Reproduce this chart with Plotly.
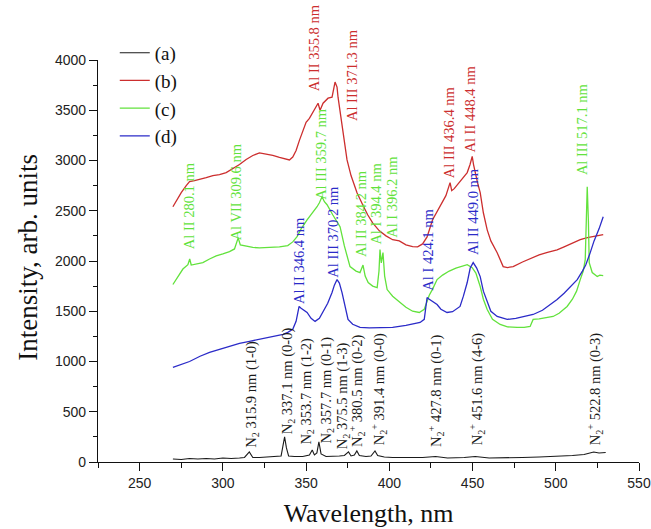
import plotly.graph_objects as go

# ---------------- data ----------------
wl_a = [270, 275, 280, 285, 290, 295, 300, 305, 310, 313, 315.9, 318, 322, 327, 332, 335,
        336, 337.1, 338.2, 339.5, 343, 348, 352, 353.7, 355, 356.5, 357.7, 359, 362, 366,
        370, 373, 375.5, 377, 379, 380.5, 382, 386, 389, 391.4, 393, 397, 402, 410, 420,
        427.8, 435, 445, 451.6, 460, 470, 480, 490, 500, 510, 517, 522.8, 526, 530]
int_a = [30, 25, 35, 30, 35, 30, 40, 35, 40, 45, 100, 45, 45, 50, 50, 60,
         150, 250, 140, 60, 55, 55, 70, 120, 70, 90, 200, 80, 55, 55,
         60, 65, 100, 60, 70, 110, 65, 55, 60, 110, 65, 50, 45, 45, 45,
         55, 40, 45, 55, 40, 40, 45, 50, 55, 65, 75, 100, 90, 95]

wl_b = [270, 272, 275, 278, 280, 283, 286, 290, 294, 298, 302, 306, 310, 314, 318, 322,
        326, 330, 334, 338, 340, 342, 344, 346, 348.2, 350, 352, 354, 357.2, 358.4, 360.2,
        363.2, 365.6, 367.4, 368.6, 369.2, 371.6, 374.6, 377, 380.6, 384, 387, 390, 394,
        398, 402, 406, 410, 414, 417, 420, 422.7, 426, 429, 432, 434, 436.5, 437.5, 439,
        441, 443, 445, 446.8, 448.5, 449.8, 450.6, 451.6, 453, 454.6, 456.5, 458.8, 461,
        464.8, 468.4, 471, 474.4, 480, 486.4, 490, 495, 500.8, 505, 510, 514.7, 519, 522,
        525, 528.5]
int_b = [2540, 2600, 2680, 2750, 2790, 2800, 2810, 2830, 2850, 2860, 2880, 2920, 2960, 3010, 3050, 3075,
         3065, 3050, 3030, 3010, 3005, 3035, 3100, 3200, 3300, 3380, 3420, 3480, 3570, 3500, 3570,
         3620, 3630, 3780, 3730, 3630, 3333, 3006, 2850, 2680, 2560, 2460, 2380, 2300,
         2250, 2212, 2200, 2160, 2143, 2140, 2170, 2240, 2410, 2500, 2580, 2650, 2780, 2700, 2720,
         2760, 2800, 2840, 2880, 2960, 3040, 2960, 2880, 2780, 2680, 2480, 2310, 2200,
         2083, 1944, 1935, 1944, 1990, 2034, 2060, 2085, 2110, 2140, 2175, 2212, 2232, 2242,
         2252, 2262]

wl_c = [270, 273, 276, 279, 280.1, 281, 284, 288, 292, 296, 300, 304, 307, 309.2, 310.5,
        314.5, 318, 322, 328, 334, 339, 342, 344.6, 347, 350.6, 353, 356.6, 358, 359.6, 361,
        362.6, 366, 370.4, 373, 376.4, 380, 382.4, 384.2, 385.5, 387.3, 390, 392.7, 393.8,
        394.4, 395.2, 396.2, 397.2, 398.7, 402, 406.5, 410, 414, 418, 421, 422.7, 424, 426,
        428.7, 432, 436, 440, 444, 446.8, 449.8, 452, 454.6, 456.5, 458.8, 462, 466.6, 471,
        476.8, 481, 484.6, 486.4, 490, 494, 498.4, 502, 506.8, 510, 512.5, 514.7, 516.5,
        517.7, 518.9, 519.6, 520.1, 521.9, 524.9, 526.5, 528.5]
int_c = [1766, 1850, 1920, 1964, 2020, 1960, 1970, 1984, 2020, 2050, 2070, 2093, 2120, 2230, 2160,
         2143, 2135, 2130, 2133, 2140, 2153, 2190, 2242, 2320, 2410, 2460, 2540, 2580, 2640, 2590,
         2560, 2460, 2341, 2150, 1944, 1900, 1885, 1960, 1850, 1786, 1750, 1736, 1900,
         2113, 1980, 2083, 1850, 1716, 1650, 1587, 1540, 1500, 1488, 1520, 1600, 1660, 1720,
         1815, 1860, 1900, 1930, 1950, 1964, 1934, 1880, 1746, 1620, 1518, 1420, 1369, 1345,
         1339, 1340, 1349, 1419, 1425, 1435, 1448, 1480, 1548, 1620, 1700, 1815, 1900,
         2014, 2738, 2400, 1984, 1885, 1845, 1860, 1855]

wl_d = [270, 275, 280, 286.3, 292, 298, 304, 310, 316, 322, 328, 333, 336.2, 339, 342, 344,
        345.8, 347, 350.6, 353, 355.4, 358, 360, 363, 365.6, 367, 368.6, 370, 371.6, 373.5,
        375.2, 378, 382.4, 388, 395, 402, 410, 418.5, 421, 422.7, 424, 426, 428.7, 431,
        434.7, 438, 442.5, 444.5, 446.8, 448.6, 450.4, 452.5, 454.6, 456.5, 458.8, 461,
        464.8, 470.8, 476, 481, 486.4, 492, 496, 500.8, 505, 509, 512.9, 516, 518, 520.7,
        523, 526, 528.5]
int_d = [942, 970, 1000, 1052, 1090, 1120, 1150, 1180, 1200, 1220, 1240, 1260, 1270, 1290, 1320, 1400,
         1548, 1530, 1488, 1430, 1399, 1430, 1488, 1580, 1686, 1760, 1815, 1780, 1686, 1550,
         1419, 1370, 1339, 1335, 1335, 1339, 1360, 1389, 1420, 1637, 1620, 1600, 1567, 1520,
         1488, 1495, 1548, 1650, 1786, 1930, 1984, 1930, 1845, 1700, 1587, 1500,
         1448, 1419, 1430, 1445, 1468, 1510, 1560, 1617, 1680, 1750, 1815, 1900, 1960, 2083,
         2200, 2320, 2440]

series_names = ["(a)", "(b)", "(c)", "(d)"]
series_colors = ["#1a1a1a", "#cc2e2e", "#62e23c", "#2b2bc8"]

# line labels: text, wavelength position, bottom of label (intensity), series index
label_text = [
    "Al II 355.8 nm", "Al III 371.3 nm", "Al III 436.4 nm", "Al II 448.4 nm",
    "Al II 280.1 nm", "Al VII 309.6 nm", "Al III 359.7 nm", "Al II 384.2 nm",
    "Al I 394.4 nm", "Al I 396.2 nm", "Al III 517.1 nm",
    "Al II 346.4 nm", "Al III 370.2 nm", "Al I 424.1 nm", "Al II 449.0 nm",
    "N<sub>2</sub> 315.9 nm (1-0)", "N<sub>2</sub> 337.1 nm (0-0)", "N<sub>2</sub> 353.7 nm (1-2)",
    "N<sub>2</sub> 357.7 nm (0-1)", "N<sub>2</sub> 375.5 nm (1-3)",
    "N<sub>2</sub><sup>+</sup> 380.5 nm (0-2)", "N<sub>2</sub><sup>+</sup> 391.4 nm (0-0)",
    "N<sub>2</sub><sup>+</sup> 427.8 nm (0-1)", "N<sub>2</sub><sup>+</sup> 451.6 nm (4-6)",
    "N<sub>2</sub><sup>+</sup> 522.8 nm (0-3)",
]
label_wl = [354.5, 377.6, 436.0, 448.5,
            279.7, 308.0, 359.0, 383.0, 392.0, 401.7, 515.9,
            345.8, 366.2, 422.7, 450.3,
            317.0, 339.0, 350.0, 362.0, 372.0, 380.6, 394.0, 428.0, 452.8, 523.7]
label_int = [3670, 3373, 2807, 3055,
             2093, 2182, 2589, 2014, 2143, 2212, 2837,
             1548, 1815, 1686, 2034,
             119, 258, 149, 159, 109, 129, 149, 129, 149, 149]
label_series = [1, 1, 1, 1,
                2, 2, 2, 2, 2, 2, 2,
                3, 3, 3, 3,
                0, 0, 0, 0, 0, 0, 0, 0, 0, 0]

x_ticks = [250, 300, 350, 400, 450, 500, 550]
y_ticks = [0, 500, 1000, 1500, 2000, 2500, 3000, 3500, 4000]

# ---------------- figure ----------------
fig = go.Figure()
xs = [wl_a, wl_b, wl_c, wl_d]
ys = [int_a, int_b, int_c, int_d]
for i in range(4):
    fig.add_trace(go.Scatter(
        x=xs[i], y=ys[i], mode="lines", name=series_names[i],
        line=dict(color=series_colors[i], width=1.1 if i == 0 else 1.3),
    ))

for t, xw, yb, s in zip(label_text, label_wl, label_int, label_series):
    fig.add_annotation(
        x=xw, y=yb, xref="x", yref="y", text=t, showarrow=False,
        textangle=-90, xanchor="center", yanchor="bottom",
        font=dict(family="Liberation Serif", size=14.5, color=series_colors[s]),
    )

# y-axis title placed as rotated text left of the axis
fig.add_annotation(
    x=-0.13, y=0.51, xref="paper", yref="paper", text="Intensity, arb. units",
    showarrow=False, textangle=-90, xanchor="center", yanchor="middle",
    font=dict(family="Liberation Serif", size=27, color="#111"),
)

fig.update_layout(
    width=651, height=529,
    margin=dict(l=98, r=12, t=60, b=67),
    paper_bgcolor="white", plot_bgcolor="white",
    showlegend=True,
    legend=dict(
        x=0.031, y=1.065, xanchor="left", yanchor="top",
        font=dict(family="Liberation Serif", size=19, color="#111"),
        bgcolor="rgba(0,0,0,0)", borderwidth=0,
    ),
    xaxis=dict(
        range=[225, 550], tickvals=x_ticks, showgrid=False, zeroline=False,
        showline=True, linecolor="#111", linewidth=1.2, mirror=False,
        ticks="outside", ticklen=8, tickwidth=1.2, tickcolor="#111",
        minor=dict(dtick=25, tick0=225, ticks="outside", ticklen=5, tickwidth=1.2, tickcolor="#111"),
        tickfont=dict(family="Liberation Sans", size=14, color="#222"),
        title=dict(text="Wavelength, nm", font=dict(family="Liberation Serif", size=26, color="#111"),
                   standoff=13),
        automargin=False,
    ),
    yaxis=dict(
        range=[0, 4000], tickvals=y_ticks, showgrid=False, zeroline=False,
        showline=True, linecolor="#111", linewidth=1.2, mirror=False,
        ticks="outside", ticklen=8, tickwidth=1.2, tickcolor="#111",
        minor=dict(dtick=250, tick0=0, ticks="outside", ticklen=4, tickwidth=1.2, tickcolor="#111"),
        tickfont=dict(family="Liberation Sans", size=14, color="#222"),
        automargin=False,
    ),
)

fig.write_html("out.html")
